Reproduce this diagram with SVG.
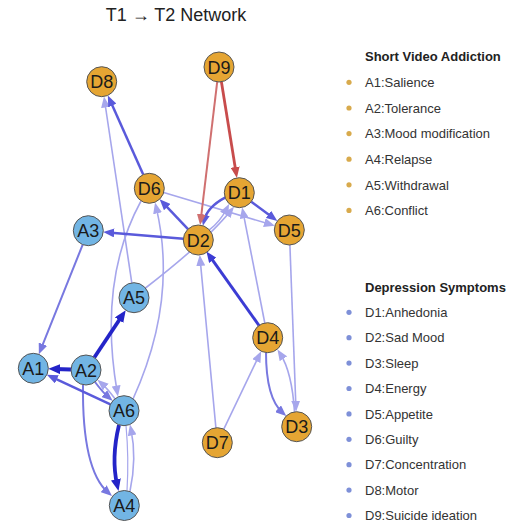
<svg xmlns="http://www.w3.org/2000/svg" width="528" height="531" viewBox="0 0 528 531">
<style>
.e{fill:none;stroke-linecap:butt}
.dark{stroke:#2424C8;stroke-width:3.8}
.strong{stroke:#3C3CD4;stroke-width:3}
.med{stroke:#5A5ADB;stroke-width:2.5}
.ml{stroke:#7878E0;stroke-width:2}
.lt{stroke:#A6A6EC;stroke-width:1.6}
.red{stroke:#C84C4C;stroke-width:2.8}
.redl{stroke:#D07070;stroke-width:2}
.n circle{stroke:#555;stroke-width:1}
.n text{font-family:"Liberation Sans",Arial,sans-serif;font-size:18px;fill:#1a1a1a;text-anchor:middle}
.a circle{fill:#72B5E4}
.d circle{fill:#E5A533}
.title{font-family:"Liberation Sans",Arial,sans-serif;font-size:18px;fill:#222;text-anchor:middle}
.lh{font-family:"Liberation Sans",Arial,sans-serif;font-size:13px;font-weight:bold;fill:#222}
.li{font-family:"Liberation Sans",Arial,sans-serif;font-size:13px;fill:#333}
.dg{fill:#D8AA4C}
.db{fill:#7E90D8}
</style>
<defs>
<marker id="m-dark" markerUnits="userSpaceOnUse" markerWidth="12" markerHeight="10" refX="6" refY="5" orient="auto"><path d="M0,0 L12,5 L0,10 z" fill="#2424C8"/></marker>
<marker id="m-strong" markerUnits="userSpaceOnUse" markerWidth="11" markerHeight="9" refX="5" refY="4.5" orient="auto"><path d="M0,0 L11,4.5 L0,9 z" fill="#3C3CD4"/></marker>
<marker id="m-med" markerUnits="userSpaceOnUse" markerWidth="11" markerHeight="9" refX="6" refY="4.5" orient="auto"><path d="M0,0 L11,4.5 L0,9 z" fill="#5A5ADB"/></marker>
<marker id="m-ml" markerUnits="userSpaceOnUse" markerWidth="11" markerHeight="9" refX="6" refY="4.5" orient="auto"><path d="M0,0 L11,4.5 L0,9 z" fill="#7878E0"/></marker>
<marker id="m-lt" markerUnits="userSpaceOnUse" markerWidth="11" markerHeight="9" refX="6" refY="4.5" orient="auto"><path d="M0,0 L11,4.5 L0,9 z" fill="#A6A6EC"/></marker>
<marker id="m-red" markerUnits="userSpaceOnUse" markerWidth="11" markerHeight="9" refX="6" refY="4.5" orient="auto"><path d="M0,0 L11,4.5 L0,9 z" fill="#C84C4C"/></marker>
<marker id="m-redl" markerUnits="userSpaceOnUse" markerWidth="11" markerHeight="9" refX="6" refY="4.5" orient="auto"><path d="M0,0 L11,4.5 L0,9 z" fill="#D07070"/></marker>
</defs>
<rect width="528" height="531" fill="#fff"/>
<text class="title" x="176" y="21">T1 → T2 Network</text>
<g id="connectors">
<path class="e lt" d="M131.8,282.9 L104.7,101.5" marker-end="url(#m-lt)"/>
<path class="e lt" d="M163.7,192.6 L270.1,224.3" marker-end="url(#m-lt)"/>
<path class="e lt" d="M209.3,229.8 Q220,222 226.8,208.5" marker-end="url(#m-lt)"/>
<path class="e lt" d="M145.5,288 Q205,242 230.8,210.7" marker-end="url(#m-lt)"/>
<path class="e lt" d="M215.9,427.8 L200.2,259.9" marker-end="url(#m-lt)"/>
<path class="e lt" d="M223.8,429.2 L259,355.7" marker-end="url(#m-lt)"/>
<path class="e lt" d="M294.5,411.9 Q292,372 280.2,353.7" marker-end="url(#m-lt)"/>
<path class="e lt" d="M289.9,245 L295.9,406.7" marker-end="url(#m-lt)"/>
<path class="e lt" d="M264.8,323 L243.1,212.3" marker-end="url(#m-lt)"/>
<path class="e lt" d="M115,398.7 Q107.2,388.3 101.2,383.1" marker-end="url(#m-lt)"/>
<path class="e lt" d="M141,201 Q98,280 117.1,391.6" marker-end="url(#m-lt)"/>
<path class="e lt" d="M133,399 Q178,300 156.2,207.4" marker-end="url(#m-lt)"/>
<path class="e lt" d="M130,491 Q137,458 131,429.4" marker-end="url(#m-lt)"/>
<path class="e lt" style="stroke-width:1.2" d="M126,425.5 Q129,458 127,490.5"/>
<path class="e ml" d="M82.7,244.6 L40.7,349.7" marker-end="url(#m-ml)"/>
<path class="e ml" d="M266,352.6 Q266,398 282.5,412.7" marker-end="url(#m-ml)"/>
<path class="e ml" d="M95,382 Q102.8,392.4 108.8,397.6" marker-end="url(#m-ml)"/>
<path class="e ml" d="M83,385 Q82,470 108.2,492.7" marker-end="url(#m-ml)"/>
<path class="e med" d="M143.2,174.6 L109.9,100" marker-end="url(#m-med)"/>
<path class="e med" d="M251.3,201.7 L273.3,218" marker-end="url(#m-med)"/>
<path class="e med" d="M225.5,197.3 Q207,207 204,220.8" marker-end="url(#m-med)"/>
<path class="e med" d="M188,229.1 L163.1,202.8" marker-end="url(#m-med)"/>
<path class="e med" d="M183.4,238.7 L108.2,232.4" marker-end="url(#m-med)"/>
<path class="e med" d="M110.4,404.3 L51.4,376.8" marker-end="url(#m-med)"/>
<path class="e strong" d="M259,325.5 L209.9,256.3" marker-end="url(#m-strong)"/>
<path class="e dark" d="M94.3,357.5 L122.4,315.2" marker-end="url(#m-dark)"/>
<path class="e dark" d="M71,369.5 L54.3,369" marker-end="url(#m-dark)"/>
<path class="e dark" d="M119,425 Q111,458 117.2,485.2" marker-end="url(#m-dark)"/>
<path class="e redl" d="M217.2,81.9 L200.7,220.1" marker-end="url(#m-redl)"/>
<path class="e red" d="M221.4,81.8 L236.1,173" marker-end="url(#m-red)"/>
</g>
<g id="node-D9" class="n d"><circle cx="219" cy="67" r="15"/><text x="219" y="73.5">D9</text></g>
<g id="node-D8" class="n d"><circle cx="101.7" cy="81.7" r="15"/><text x="101.7" y="88.2">D8</text></g>
<g id="node-D6" class="n d"><circle cx="149.3" cy="188.3" r="15"/><text x="149.3" y="194.8">D6</text></g>
<g id="node-D1" class="n d"><circle cx="239.3" cy="192.7" r="15"/><text x="239.3" y="199.2">D1</text></g>
<g id="node-D5" class="n d"><circle cx="289.3" cy="230" r="15"/><text x="289.3" y="236.5">D5</text></g>
<g id="node-A3" class="n a"><circle cx="88.3" cy="230.7" r="15"/><text x="88.3" y="237.2">A3</text></g>
<g id="node-D2" class="n d"><circle cx="198.3" cy="240" r="15"/><text x="198.3" y="246.5">D2</text></g>
<g id="node-A5" class="n a"><circle cx="134" cy="297.7" r="15"/><text x="134" y="304.2">A5</text></g>
<g id="node-D4" class="n d"><circle cx="267.7" cy="337.7" r="15"/><text x="267.7" y="344.2">D4</text></g>
<g id="node-A1" class="n a"><circle cx="33.3" cy="368.3" r="15"/><text x="33.3" y="374.8">A1</text></g>
<g id="node-A2" class="n a"><circle cx="86" cy="370" r="15"/><text x="86" y="376.5">A2</text></g>
<g id="node-A6" class="n a"><circle cx="124" cy="410.7" r="15"/><text x="124" y="417.2">A6</text></g>
<g id="node-D3" class="n d"><circle cx="296.7" cy="426.7" r="15"/><text x="296.7" y="433.2">D3</text></g>
<g id="node-D7" class="n d"><circle cx="217.3" cy="442.7" r="15"/><text x="217.3" y="449.2">D7</text></g>
<g id="node-A4" class="n a"><circle cx="124.3" cy="505.5" r="15"/><text x="124.3" y="512">A4</text></g>
<g id="legend">
<text class="lh" x="365" y="61">Short Video Addiction</text>
<circle class="dg" cx="349" cy="82.3" r="2.6"/><text class="li" x="365" y="87">A1:Salience</text>
<circle class="dg" cx="349" cy="108" r="2.6"/><text class="li" x="365" y="112.7">A2:Tolerance</text>
<circle class="dg" cx="349" cy="133.6" r="2.6"/><text class="li" x="365" y="138.3">A3:Mood modification</text>
<circle class="dg" cx="349" cy="159.2" r="2.6"/><text class="li" x="365" y="163.9">A4:Relapse</text>
<circle class="dg" cx="349" cy="184.8" r="2.6"/><text class="li" x="365" y="189.5">A5:Withdrawal</text>
<circle class="dg" cx="349" cy="210.4" r="2.6"/><text class="li" x="365" y="215.1">A6:Conflict</text>
<text class="lh" x="365" y="291.5">Depression Symptoms</text>
<circle class="db" cx="349" cy="312.3" r="2.6"/><text class="li" x="365" y="317">D1:Anhedonia</text>
<circle class="db" cx="349" cy="337.7" r="2.6"/><text class="li" x="365" y="342.4">D2:Sad Mood</text>
<circle class="db" cx="349" cy="363.1" r="2.6"/><text class="li" x="365" y="367.8">D3:Sleep</text>
<circle class="db" cx="349" cy="388.5" r="2.6"/><text class="li" x="365" y="393.2">D4:Energy</text>
<circle class="db" cx="349" cy="413.9" r="2.6"/><text class="li" x="365" y="418.6">D5:Appetite</text>
<circle class="db" cx="349" cy="439.3" r="2.6"/><text class="li" x="365" y="444">D6:Guilty</text>
<circle class="db" cx="349" cy="464.7" r="2.6"/><text class="li" x="365" y="469.4">D7:Concentration</text>
<circle class="db" cx="349" cy="490.1" r="2.6"/><text class="li" x="365" y="494.8">D8:Motor</text>
<circle class="db" cx="349" cy="515.5" r="2.6"/><text class="li" x="365" y="520.2">D9:Suicide ideation</text>
</g>
</svg>
